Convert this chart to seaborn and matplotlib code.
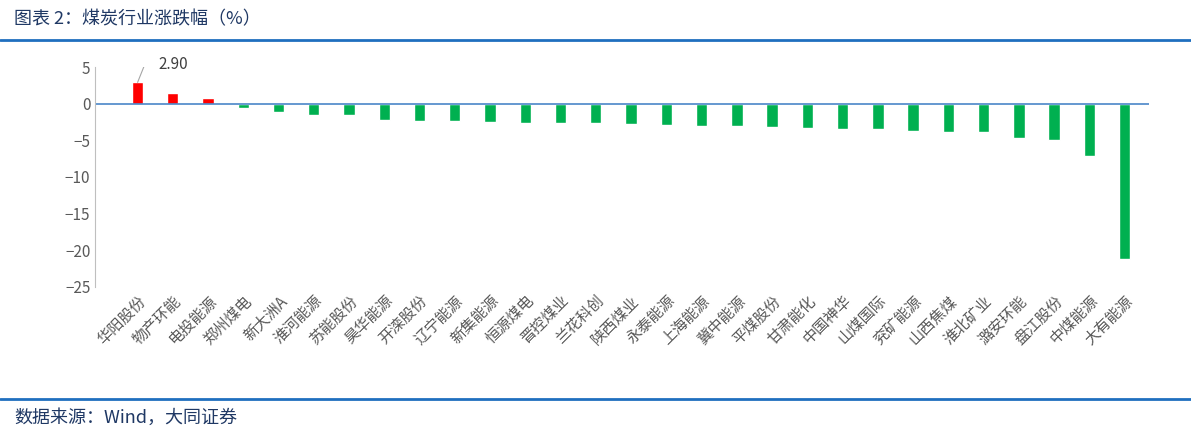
import matplotlib
matplotlib.use('Agg')
import matplotlib.pyplot as plt
import seaborn as sns
import pandas as pd

names = ['华阳股份', '物产环能', '电投能源', '郑州煤电', '新大洲A', '淮河能源', '苏能股份', '昊华能源',
         '开滦股份', '辽宁能源', '新集能源', '恒源煤电', '晋控煤业', '兰花科创', '陕西煤业', '永泰能源',
         '上海能源', '冀中能源', '平煤股份', '甘肃能化', '中国神华', '山煤国际', '兖矿能源', '山西焦煤',
         '淮北矿业', '潞安环能', '盘江股份', '中煤能源', '大有能源']
values = [2.90, 1.5, 0.8, -0.6, -1.2, -1.5, -1.5, -2.2, -2.3, -2.3, -2.5, -2.6, -2.7, -2.7, -2.8,
          -2.9, -3.0, -3.1, -3.2, -3.3, -3.4, -3.5, -3.7, -3.8, -3.9, -4.7, -5.0, -7.2, -21.2]

sns.set_style('white')
plt.rcParams['font.family'] = ['Noto Sans CJK SC', 'DejaVu Sans']
plt.rcParams['axes.unicode_minus'] = False

df = pd.DataFrame({'name': names, 'value': values})
colors = ['#ff0000' if v > 0 else '#00b050' for v in values]

fig = plt.figure(figsize=(11.91, 4.38), dpi=100)
ax = fig.add_axes([0.08, 0.345, 0.885, 0.502])
sns.barplot(data=df, x='name', y='value', hue='name', palette=colors, legend=False,
            width=0.32, saturation=1, ax=ax)

ax.set_ylim(-25, 5)
ax.set_yticks([5, 0, -5, -10, -15, -20, -25])
ax.set_yticklabels(['5', '0', '−5', '−10', '−15', '−20', '−25'])
ax.set_xlim(-1.2, len(names) - 0.3)
ax.axhline(0, color='#4a86c8', lw=1.2)
for s in ['top', 'right', 'bottom']:
    ax.spines[s].set_visible(False)
ax.spines['left'].set_color('#bfbfbf')
ax.set_xlabel('')
ax.set_ylabel('')
ax.tick_params(axis='x', length=0, pad=4)
ax.tick_params(axis='y', colors='#595959', labelsize=11, length=0)
plt.setp(ax.get_xticklabels(), rotation=45, ha='right', rotation_mode='anchor',
         fontsize=11, color='#595959')

ax.plot([0, 0.2, 0.45], [2.9, 5.3, 5.3], color='#a6a6a6', lw=0.8)
ax.text(0.6, 5.3, '2.90', fontsize=11, color='#404040', va='center')

fig.text(0.012, 0.955, '图表 2：煤炭行业涨跌幅（%）', fontsize=13, color='#1f3864', va='center')
fig.add_artist(plt.Line2D([0, 1], [0.908, 0.908], color='#1f6fbf', lw=2))
fig.add_artist(plt.Line2D([0, 1], [0.09, 0.09], color='#1f6fbf', lw=2))
fig.text(0.012, 0.045, '数据来源：Wind，大同证券', fontsize=13, color='#1f3864', va='center')

fig.savefig('out.png', dpi=100)
